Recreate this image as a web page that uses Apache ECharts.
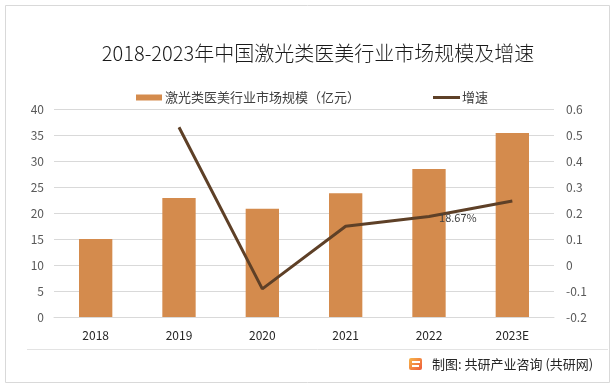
<!DOCTYPE html>
<html>
<head>
<meta charset="utf-8">
<script src="https://cdn.jsdelivr.net/npm/echarts@6/dist/echarts.min.js"></script>
<style>
html,body{margin:0;padding:0;background:#fff;}
#c{width:616px;height:387px;}
</style>
</head>
<body>
<div id="c"></div>
<script>
const categories = ['2018', '2019', '2020', '2021', '2022', '2023E'];
const marketSize = [15.0, 22.9, 20.8, 23.8, 28.45, 35.4];
const growth = [null, 0.53, -0.092, 0.149, 0.1867, 0.246];
const labelIndex = 4;
const titleText = '2018-2023年中国激光类医美行业市场规模及增速';
const barName = '激光类医美行业市场规模（亿元）';
const lineName = '增速';
const sourceText = '制图: 共研产业咨询 (共研网)';

const FONT = '"Noto Sans CJK SC", "Noto Sans", sans-serif';
const chart = echarts.init(document.getElementById('c'), null, {renderer: 'canvas'});

chart.setOption({
  animation: false,
  backgroundColor: '#fff',
  textStyle: {fontFamily: FONT},
  title: {
    text: titleText,
    left: 313,
    top: 38,
    textAlign: 'center',
    textStyle: {fontSize: 20, fontWeight: 300, color: '#1a1a1a', fontFamily: FONT}
  },
  legend: [
    {
      left: 131, top: 86,
      itemWidth: 26, itemHeight: 6, itemGap: 0,
      data: [{name: barName, icon: 'rect'}],
      textStyle: {fontSize: 13, color: '#404040', padding: [0, 0, 0, -2]}
    },
    {
      left: 428, top: 86,
      itemWidth: 27, itemHeight: 3, itemGap: 0,
      data: [{name: lineName, icon: 'rect', itemStyle: {color: '#5E4027'}}],
      textStyle: {fontSize: 13, color: '#404040', padding: [0, 0, 0, -3]}
    }
  ],
  grid: {left: 54, right: 62, top: 109, bottom: 70},
  xAxis: {
    type: 'category',
    data: categories,
    axisLine: {lineStyle: {color: '#d9d9d9'}},
    axisTick: {show: false},
    axisLabel: {fontSize: 12, color: '#262626', margin: 12}
  },
  yAxis: [
    {
      type: 'value', min: 0, max: 40, interval: 5,
      axisLine: {show: false}, axisTick: {show: false},
      splitLine: {lineStyle: {color: '#d9d9d9'}},
      axisLabel: {fontSize: 12, color: '#595959', margin: 10}
    },
    {
      type: 'value', min: -0.2, max: 0.6, interval: 0.1,
      axisLine: {show: false}, axisTick: {show: false},
      splitLine: {show: false},
      axisLabel: {fontSize: 12, color: '#595959', margin: 12,
        formatter: v => String(+v.toFixed(1))}
    }
  ],
  series: [
    {
      name: barName,
      type: 'bar',
      data: marketSize,
      barWidth: '40%',
      itemStyle: {color: '#D48B4D'}
    },
    {
      name: lineName,
      type: 'line',
      yAxisIndex: 1,
      data: growth.map((v, i) => i === labelIndex ? {
        value: v,
        label: {show: true, position: 'right', distance: 10, offset: [0, 1],
          formatter: p => (p.value * 100).toFixed(2) + '%',
          fontSize: 11, color: '#404040'}
      } : v),
      symbol: 'circle',
      symbolSize: 0.1,
      showSymbol: true,
      lineStyle: {color: '#5E4027', width: 3},
      itemStyle: {color: '#5E4027'}
    }
  ],
  graphic: [
    {type: 'rect', shape: {x: 5.5, y: 5.5, width: 604, height: 377}, style: {fill: 'none', stroke: '#d9d9d9', lineWidth: 1}, z: -1},
    {type: 'line', shape: {x1: 27, y1: 349.5, x2: 608, y2: 349.5}, style: {stroke: '#e3e3e3', lineWidth: 1}},
    {type: 'rect', shape: {x: 409, y: 358, width: 13, height: 12, r: 2},
      style: {fill: new echarts.graphic.LinearGradient(0, 0, 1, 1, [{offset: 0, color: '#F7B74A'}, {offset: 1, color: '#EE5A3A'}])}},
    {type: 'rect', shape: {x: 412, y: 361, width: 8, height: 2}, style: {fill: '#fff'}},
    {type: 'rect', shape: {x: 412, y: 365, width: 7, height: 2}, style: {fill: '#fff'}},
    {type: 'text', x: 432, y: 364, style: {text: sourceText, fontSize: 13, fill: '#262626', fontFamily: FONT, textVerticalAlign: 'middle'}}
  ]
});
</script>
</body>
</html>
